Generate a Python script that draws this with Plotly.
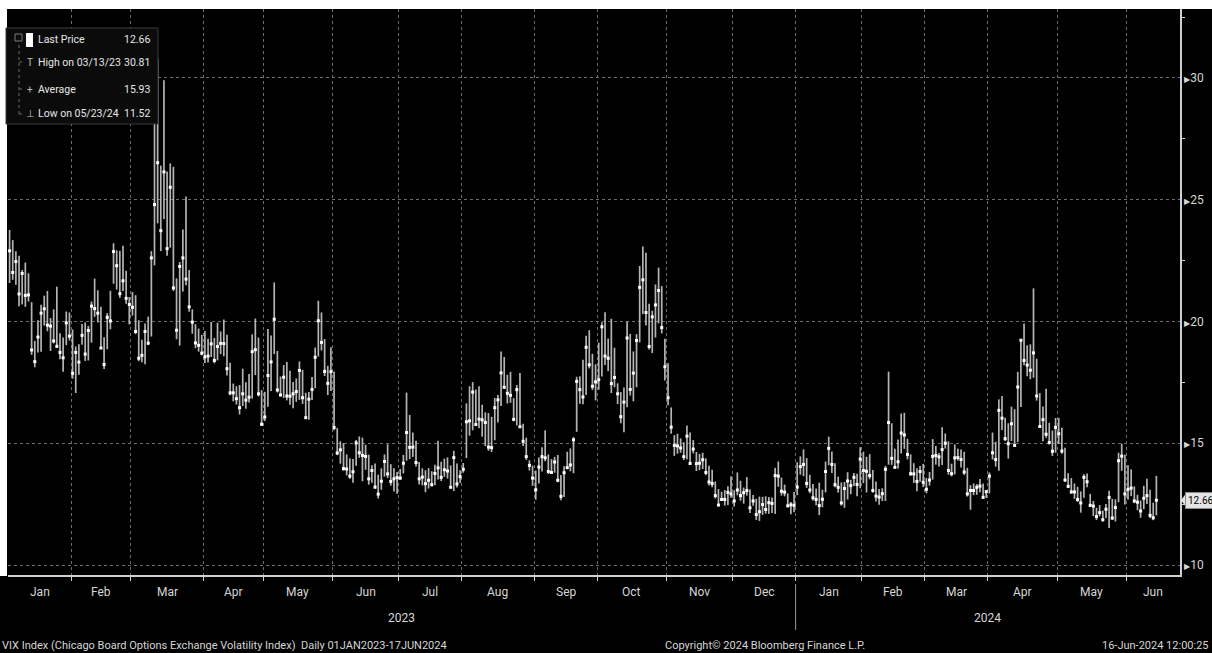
import pandas as pd
import plotly.graph_objects as go

# ---------------- data (VIX daily, 03-Jan-2023 .. 14-Jun-2024) ----------------
holidays = ["2023-01-02", "2023-01-16", "2023-02-20", "2023-04-07", "2023-05-29",
            "2023-06-19", "2023-07-04", "2023-09-04", "2023-11-23", "2023-12-25",
            "2024-01-01", "2024-01-15", "2024-02-19", "2024-03-29", "2024-05-27"]

close = [
    # 2023 Jan
    22.90, 22.01, 22.46, 21.13, 21.97, 21.07, 21.09, 18.83, 18.35, 19.36, 20.34, 20.52, 19.85, 19.81, 19.20, 18.98, 18.73, 18.51, 19.94, 19.40,
    # Feb
    17.87, 18.73, 18.33, 19.43, 18.66, 19.63, 20.63, 20.53, 20.34, 18.91, 18.23, 20.17, 20.02, 22.87, 22.29, 21.14, 21.67, 20.95, 20.70,
    # Mar
    20.58, 19.59, 18.49, 18.61, 19.59, 19.11, 22.61, 24.80, 26.52, 23.73, 26.14, 22.99, 25.51, 21.38, 19.64, 22.26, 22.61, 21.74, 20.60, 19.97, 19.12, 19.02, 18.70,
    # Apr
    18.55, 18.58, 19.08, 18.40, 18.97, 19.10, 19.09, 18.06, 17.07, 17.07, 16.83, 16.46, 17.03, 16.77, 16.89, 18.76, 18.84, 17.03, 15.78,
    # May
    16.08, 17.78, 18.34, 20.09, 17.19, 16.98, 17.71, 16.94, 16.93, 17.03, 17.12, 17.99, 16.87, 16.05, 16.81, 17.21, 18.53, 20.03, 19.14, 17.95, 17.46, 17.94,
    # Jun
    15.65, 14.60, 14.73, 13.96, 13.94, 13.65, 13.83, 15.01, 14.61, 14.50, 14.46, 13.54, 13.88, 13.20, 12.91, 13.44, 14.25, 13.74, 13.43, 13.54, 13.59,
    # Jul
    13.57, 14.18, 15.44, 14.83, 14.84, 14.21, 13.54, 13.61, 13.34, 13.48, 13.30, 13.76, 13.99, 13.60, 13.91, 13.86, 13.19, 14.41, 13.33, 13.63,
    # Aug
    13.93, 15.88, 15.92, 17.10, 15.77, 15.99, 15.96, 15.85, 14.84, 14.82, 16.46, 16.78, 17.89, 17.30, 17.05, 16.97, 15.98, 17.20, 15.68, 15.08, 14.45, 14.09, 13.57,
    # Sep
    13.09, 14.02, 14.45, 14.40, 13.84, 13.80, 14.23, 13.48, 12.82, 13.79, 14.00, 14.11, 15.14, 17.54, 17.20, 16.90, 18.94, 18.22, 17.34, 17.52,
    # Oct
    17.61, 19.78, 18.58, 18.49, 17.45, 17.70, 17.03, 16.09, 16.69, 19.32, 17.21, 17.88, 19.22, 21.40, 21.71, 20.37, 18.97, 20.19, 20.68, 21.27, 19.75, 18.14,
    # Nov
    16.87, 15.66, 14.91, 14.89, 14.81, 14.45, 15.29, 14.17, 14.76, 14.16, 14.18, 14.32, 13.80, 13.41, 13.35, 12.85, 12.46, 12.69, 12.69, 12.98, 12.92,
    # Dec
    12.63, 13.08, 12.85, 12.97, 13.06, 12.35, 12.63, 12.07, 12.19, 12.48, 12.28, 12.56, 12.53, 13.67, 13.65, 13.03, 12.99, 12.43, 12.47, 12.45,
    # 2024 Jan
    13.20, 14.04, 14.13, 13.35, 13.08, 12.76, 12.69, 12.44, 12.70, 13.84, 14.79, 14.13, 13.30, 13.19, 12.55, 13.14, 13.45, 13.26, 13.60, 13.31, 14.35,
    # Feb
    13.88, 13.85, 13.67, 13.06, 12.83, 12.79, 12.93, 13.93, 15.85, 14.38, 14.01, 14.24, 15.42, 15.34, 14.54, 13.75, 13.74, 13.43, 13.84, 13.40,
    # Mar
    13.11, 13.49, 14.46, 14.50, 14.44, 14.74, 15.00, 13.88, 13.75, 14.40, 14.41, 14.33, 13.82, 12.92, 13.06, 13.06, 13.19, 13.24, 12.78, 13.01,
    # Apr
    13.65, 14.61, 14.33, 16.35, 16.03, 15.19, 14.98, 15.80, 14.91, 17.31, 19.23, 18.40, 18.21, 18.00, 18.71, 16.94, 15.69, 15.97, 15.37, 15.03, 14.67, 15.65,
    # May
    15.39, 14.68, 13.49, 13.23, 13.00, 13.00, 12.69, 12.55, 13.60, 13.42, 12.45, 12.42, 11.99, 12.15, 11.86, 12.29, 12.77, 11.93, 12.36, 14.28, 14.47, 12.92,
    # Jun
    13.11, 13.16, 12.63, 12.58, 12.22, 12.74, 12.85, 12.04, 11.94, 12.66,
]

high = [
    23.76, 23.34, 22.88, 22.70, 22.11, 22.42, 21.98, 20.79, 19.20, 20.05, 20.69, 21.06, 21.25, 20.14, 20.50, 21.43, 19.52, 19.34, 20.41, 20.37,
    19.67, 18.97, 19.06, 19.90, 19.96, 19.82, 20.82, 21.76, 21.28, 20.60, 19.35, 20.34, 21.26, 23.21, 22.92, 22.90, 23.11, 22.08, 21.00,
    21.21, 21.08, 20.05, 19.25, 19.92, 20.20, 22.89, 28.97, 30.81, 26.40, 29.90, 26.16, 26.49, 26.35, 21.77, 22.44, 23.78, 25.13, 22.11, 20.50, 19.89, 19.71, 19.45,
    19.61, 19.29, 19.98, 19.32, 19.95, 19.59, 20.08, 19.45, 18.30, 17.45, 17.34, 17.39, 18.06, 17.50, 17.84, 19.47, 20.12, 19.34, 17.18,
    17.11, 19.69, 19.42, 21.60, 18.79, 17.74, 18.21, 18.34, 17.98, 17.51, 17.66, 18.36, 18.01, 17.07, 17.10, 17.72, 18.93, 20.85, 20.37, 19.28, 18.18, 18.94,
    17.95, 15.62, 15.08, 15.01, 14.54, 14.38, 14.35, 15.13, 15.28, 15.23, 14.94, 14.53, 14.10, 14.17, 13.71, 13.97, 14.54, 14.96, 14.14, 13.97, 13.82,
    13.94, 14.52, 17.08, 16.16, 15.44, 15.10, 14.23, 13.97, 13.89, 13.98, 13.85, 14.12, 15.10, 14.24, 14.37, 14.42, 14.09, 14.69, 14.17, 13.89,
    14.19, 16.64, 17.34, 17.51, 17.21, 17.34, 16.58, 16.27, 16.24, 16.08, 16.86, 16.98, 18.77, 18.54, 17.81, 17.93, 16.85, 17.39, 17.88, 15.80, 15.23, 14.30, 14.08,
    13.88, 14.41, 14.84, 15.53, 14.54, 14.35, 14.44, 14.52, 13.70, 14.06, 14.65, 14.79, 15.25, 17.73, 17.75, 18.43, 19.41, 19.64, 18.67, 18.24,
    19.13, 19.97, 20.38, 19.30, 20.11, 18.92, 17.46, 17.10, 17.29, 20.00, 19.49, 18.77, 19.48, 22.28, 23.08, 22.82, 20.73, 20.44, 21.52, 22.21, 21.45, 19.29,
    18.28, 16.47, 15.33, 15.39, 15.20, 15.04, 15.73, 15.44, 15.13, 14.64, 14.56, 14.61, 14.38, 14.08, 13.91, 13.43, 13.12, 13.01, 13.08, 13.23, 13.64,
    13.07, 13.80, 13.46, 13.18, 13.61, 13.10, 12.87, 12.72, 12.81, 12.80, 12.82, 12.79, 12.77, 13.99, 14.25, 13.59, 13.30, 12.94, 12.59, 13.00,
    14.22, 14.46, 14.75, 14.39, 13.70, 13.33, 13.14, 13.38, 13.09, 14.25, 15.27, 14.66, 14.18, 13.63, 13.39, 13.41, 13.81, 13.50, 13.78, 13.75, 14.84,
    14.65, 14.44, 14.55, 13.90, 13.43, 13.12, 13.15, 14.07, 17.94, 15.82, 14.77, 15.15, 16.22, 16.25, 15.18, 14.54, 14.18, 13.97, 14.07, 14.15,
    13.57, 13.82, 15.17, 14.89, 14.60, 15.66, 15.40, 15.08, 14.16, 14.95, 14.77, 14.74, 14.65, 13.99, 13.28, 13.35, 13.32, 13.53, 13.35, 13.08,
    13.80, 15.44, 15.06, 16.80, 16.94, 16.05, 15.82, 16.50, 16.40, 17.93, 19.25, 19.92, 19.02, 19.06, 21.36, 18.47, 17.06, 16.51, 17.24, 15.84, 15.52, 16.04,
    16.04, 15.64, 14.81, 13.77, 13.57, 13.35, 13.21, 13.02, 13.73, 13.76, 12.92, 12.63, 12.35, 12.46, 12.23, 12.51, 13.05, 12.72, 12.70, 14.61, 14.98, 14.53,
    14.10, 13.93, 13.23, 12.88, 12.65, 13.25, 13.54, 13.09, 12.56, 13.66,
]

low = [
    21.58, 21.71, 21.51, 20.62, 20.70, 20.60, 20.82, 18.63, 18.12, 18.73, 18.76, 19.83, 19.60, 18.79, 19.10, 18.92, 18.45, 17.94, 19.03, 19.22,
    17.65, 17.06, 17.81, 19.04, 18.38, 18.40, 19.13, 20.19, 19.96, 18.87, 18.05, 18.86, 19.68, 21.55, 21.31, 20.97, 21.25, 20.73, 19.88,
    20.24, 19.48, 18.37, 18.33, 18.24, 19.03, 19.38, 22.30, 24.03, 22.89, 24.21, 22.70, 23.03, 21.25, 19.27, 19.01, 21.23, 21.49, 20.40, 19.50, 18.90, 18.76, 18.61,
    18.29, 18.32, 18.54, 18.28, 18.40, 18.66, 18.57, 17.78, 16.97, 16.72, 16.59, 16.18, 16.53, 16.42, 16.67, 16.83, 17.80, 16.92, 15.72,
    15.91, 16.50, 17.14, 18.66, 17.08, 16.93, 16.86, 16.76, 16.58, 16.44, 16.70, 16.78, 16.61, 16.02, 15.96, 16.78, 17.26, 18.56, 18.81, 17.76, 16.98, 17.14,
    15.53, 14.51, 14.16, 13.87, 13.68, 13.54, 13.38, 14.08, 14.40, 13.44, 13.91, 13.30, 13.38, 13.12, 12.73, 13.09, 13.63, 13.57, 13.26, 13.02, 12.93,
    13.50, 13.76, 14.28, 14.35, 14.44, 14.05, 13.31, 13.27, 12.99, 13.14, 13.22, 13.28, 13.51, 13.45, 13.62, 13.55, 13.18, 13.04, 13.18, 13.37,
    13.79, 14.39, 15.31, 15.53, 15.71, 15.62, 15.27, 14.88, 14.69, 14.64, 15.12, 15.85, 16.53, 17.23, 16.63, 16.66, 15.90, 15.73, 15.62, 14.89, 14.32, 13.88, 13.25,
    12.68, 13.35, 13.84, 14.26, 13.74, 13.76, 13.79, 13.40, 12.66, 12.79, 13.93, 13.85, 13.77, 15.47, 16.62, 16.60, 16.98, 18.07, 17.19, 16.76,
    17.20, 17.74, 18.21, 17.96, 17.06, 17.30, 16.61, 15.82, 15.45, 16.48, 16.96, 16.72, 17.30, 19.14, 20.30, 19.83, 18.85, 18.70, 19.34, 19.92, 19.51, 17.58,
    16.56, 15.39, 14.48, 14.57, 14.61, 14.31, 14.34, 14.12, 14.58, 13.86, 13.90, 13.94, 13.69, 13.27, 13.19, 12.73, 12.45, 12.66, 12.44, 12.46, 12.76,
    12.40, 12.86, 12.64, 12.52, 12.85, 12.14, 12.43, 11.85, 11.81, 12.06, 12.11, 12.11, 12.14, 12.10, 13.21, 12.85, 12.82, 12.37, 12.08, 12.17,
    12.87, 13.71, 13.65, 13.17, 12.95, 12.65, 12.45, 12.05, 12.37, 12.98, 14.10, 13.78, 13.19, 12.97, 12.44, 12.35, 12.69, 12.91, 13.24, 12.82, 13.15,
    13.36, 12.98, 13.52, 12.97, 12.61, 12.47, 12.63, 12.63, 14.12, 14.11, 13.97, 13.96, 14.58, 14.77, 14.34, 13.66, 13.37, 13.03, 13.42, 13.20,
    12.95, 13.26, 13.51, 14.12, 14.05, 14.11, 14.78, 13.71, 13.64, 13.72, 14.29, 14.00, 13.70, 12.81, 12.27, 12.87, 12.88, 12.99, 12.72, 12.75,
    12.94, 14.33, 14.04, 13.87, 15.54, 15.09, 14.37, 15.09, 14.86, 15.05, 16.49, 18.20, 17.75, 17.63, 17.69, 16.75, 15.65, 15.08, 15.23, 14.95, 14.48, 14.61,
    14.97, 14.57, 13.41, 13.16, 12.93, 12.72, 12.59, 12.15, 12.76, 13.19, 12.38, 12.01, 11.85, 12.00, 11.78, 11.93, 11.52, 11.85, 11.79, 12.58, 13.87, 12.48,
    12.68, 12.83, 12.54, 12.25, 11.94, 12.29, 12.51, 11.93, 11.84, 12.04,
]

y_ticks = [10, 15, 20, 25, 30]
legend_labels = ["Last Price", "High on 03/13/23", "Average", "Low on 05/23/24"]
legend_values = ["12.66", "30.81", "15.93", "11.52"]
years = ["2023", "2024"]

# ---------------- dates / index axis ----------------
dates = pd.bdate_range("2023-01-03", "2024-06-14")
dates = dates[~dates.isin(pd.to_datetime(holidays))]
n = min(len(dates), len(close), len(high), len(low))
dates = dates[:n]
close, high, low = close[:n], high[:n], low[:n]
xi = list(range(n))
X_END = 371.5

month_start = [i for i in range(n) if i == 0 or dates[i].month != dates[i - 1].month]
bounds = [i - 0.5 for i in month_start] + [X_END]
month_mid = [(bounds[k] + bounds[k + 1]) / 2 for k in range(len(month_start))]
month_txt = [dates[i].strftime("%b") for i in month_start]
year_start = [i for i in range(n) if i == 0 or dates[i].year != dates[i - 1].year]
ybounds = [i - 0.5 for i in year_start] + [X_END]

# ---------------- layout geometry ----------------
W, H = 1212, 653
ML, MR, MT, MB = 8, 32, 9, 78
PW, PH = W - ML - MR, H - MT - MB
def px(xp):
    return (xp - ML) / PW
def py(yp):
    return (H - MB - yp) / PH

FONT = "Roboto, Liberation Sans, sans-serif"
TXT = "#d6d6d6"

fig = go.Figure()
fig.add_trace(go.Scatter(
    x=xi, y=close, mode="markers",
    marker=dict(symbol="square", size=3, color="#ffffff", line=dict(width=0)),
    error_y=dict(type="data", symmetric=False,
                 array=[h - c for h, c in zip(high, close)],
                 arrayminus=[c - l for c, l in zip(close, low)],
                 color="#b4b4b4", thickness=1.7, width=0),
    hoverinfo="skip", showlegend=False,
))

ann = []
shapes = []
# month labels
for m, t in zip(month_mid, month_txt):
    ann.append(dict(x=m, y=py(592), xref="x", yref="paper", text=t, showarrow=False,
                    font=dict(family=FONT, size=12, color=TXT), yanchor="middle"))
# year labels
for k, yr in enumerate(years):
    ann.append(dict(x=(ybounds[k] + ybounds[k + 1]) / 2, y=py(618), xref="x", yref="paper",
                    text=yr, showarrow=False, font=dict(family=FONT, size=12, color=TXT),
                    yanchor="middle"))
shapes.append(dict(type="line", xref="x", yref="paper", x0=ybounds[1], x1=ybounds[1],
                   y0=py(584), y1=py(630), line=dict(color="#9a9a9a", width=1)))
# footer
ann.append(dict(x=px(0), y=py(645), xref="paper", yref="paper", xanchor="left", yanchor="middle",
                text="VIX Index (Chicago Board Options Exchange Volatility Index)  Daily 01JAN2023-17JUN2024",
                showarrow=False, font=dict(family=FONT, size=11, color=TXT)))
ann.append(dict(x=px(765), y=py(645), xref="paper", yref="paper", xanchor="center", yanchor="middle",
                text="Copyright© 2024 Bloomberg Finance L.P.", showarrow=False,
                font=dict(family=FONT, size=11, color=TXT)))
ann.append(dict(x=px(1211), y=py(645), xref="paper", yref="paper", xanchor="right", yanchor="middle",
                text="16-Jun-2024 12:00:25", showarrow=False, font=dict(family=FONT, size=11, color=TXT)))

# white page strips (top, left of plot)
shapes.append(dict(type="rect", xref="paper", yref="paper", x0=px(0), x1=px(W), y0=py(9), y1=py(0),
                   fillcolor="#ffffff", line=dict(width=0), layer="above"))
shapes.append(dict(type="rect", xref="paper", yref="paper", x0=px(0), x1=px(7), y0=py(576), y1=py(0),
                   fillcolor="#ffffff", line=dict(width=0), layer="above"))

# legend box
shapes.append(dict(type="rect", xref="paper", yref="paper", x0=px(6), x1=px(158), y0=py(124), y1=py(28),
                   fillcolor="#0b0b0b", line=dict(color="#3a3a3a", width=1), layer="above"))
rows = [40, 62, 89, 114]
shapes.append(dict(type="line", xref="paper", yref="paper", x0=px(19), x1=px(19), y0=py(114), y1=py(42),
                   line=dict(color="#6a6a6a", width=1, dash="dot"), layer="above"))
shapes.append(dict(type="rect", xref="paper", yref="paper", x0=px(15), x1=px(22), y0=py(41), y1=py(34),
                   line=dict(color="#7a7a7a", width=1), fillcolor="#0b0b0b", layer="above"))
for r in rows[1:]:
    shapes.append(dict(type="line", xref="paper", yref="paper", x0=px(19), x1=px(25), y0=py(r), y1=py(r),
                       line=dict(color="#6a6a6a", width=1, dash="dot"), layer="above"))
shapes.append(dict(type="rect", xref="paper", yref="paper", x0=px(26), x1=px(33), y0=py(47), y1=py(33),
                   fillcolor="#ffffff", line=dict(width=0), layer="above"))
glyphs = ["", "T", "+", "\u22a5"]
for r, g, lab, val in zip(rows, glyphs, legend_labels, legend_values):
    if g:
        ann.append(dict(x=px(30), y=py(r), xref="paper", yref="paper", text=g, showarrow=False,
                        xanchor="center", yanchor="middle", font=dict(family=FONT, size=10, color="#bdbdbd")))
    ann.append(dict(x=px(36), y=py(r), xref="paper", yref="paper", text=lab, showarrow=False,
                    xanchor="left", yanchor="middle", font=dict(family=FONT, size=10.5, color="#e6e6e6")))
    ann.append(dict(x=px(152), y=py(r), xref="paper", yref="paper", text=val, showarrow=False,
                    xanchor="right", yanchor="middle", font=dict(family=FONT, size=10.5, color="#e6e6e6")))

# last price tag
last = close[-1]
ann.append(dict(x=px(1185), y=last, xref="paper", yref="y", text=f"{last:.2f}", showarrow=False,
                xanchor="left", yanchor="middle", bgcolor="#e4e4e4", bordercolor="#8a8a8a", borderwidth=1,
                borderpad=2, font=dict(family=FONT, size=10, color="#000000")))
shapes.append(dict(type="path", xref="paper", yref="y",
                   path=f"M {px(1181)} {last} L {px(1186)} {last + 0.28} L {px(1186)} {last - 0.28} Z",
                   fillcolor="#e4e4e4", line=dict(width=0), layer="above"))

fig.update_layout(
    width=W, height=H,
    margin=dict(l=ML, r=MR, t=MT, b=MB, pad=0),
    paper_bgcolor="#000000", plot_bgcolor="#000000",
    showlegend=False,
    annotations=ann, shapes=shapes,
    xaxis=dict(range=[-0.5, X_END], showticklabels=False, ticks="", showgrid=False, zeroline=False,
               showline=True, linecolor="#cfcfcf", linewidth=2,
               minor=dict(tickmode="array", tickvals=bounds[1:-1], ticks="outside", ticklen=4,
                          tickcolor="#cfcfcf", tickwidth=1, showgrid=True, gridcolor="#6e6e6e",
                          griddash="dot", gridwidth=1)),
    yaxis=dict(side="right", range=[9.59, 32.83], tickmode="array", tickvals=y_ticks,
               ticktext=[f"<span style='font-size:8px'>\u25b6</span>{v}" for v in y_ticks],
               ticks="", showgrid=True, gridcolor="#6e6e6e", griddash="dot", gridwidth=1,
               zeroline=False, showline=True, linecolor="#cfcfcf", linewidth=1.5,
               tickfont=dict(family=FONT, size=12, color=TXT),
               minor=dict(tickmode="array", tickvals=[12.5, 17.5, 22.5, 27.5, 32.5], ticks="outside",
                          ticklen=3, tickcolor="#cfcfcf", showgrid=False)),
)

fig.write_html("out.html", config={"displayModeBar": False},
               post_script="document.body.style.margin='0';")
